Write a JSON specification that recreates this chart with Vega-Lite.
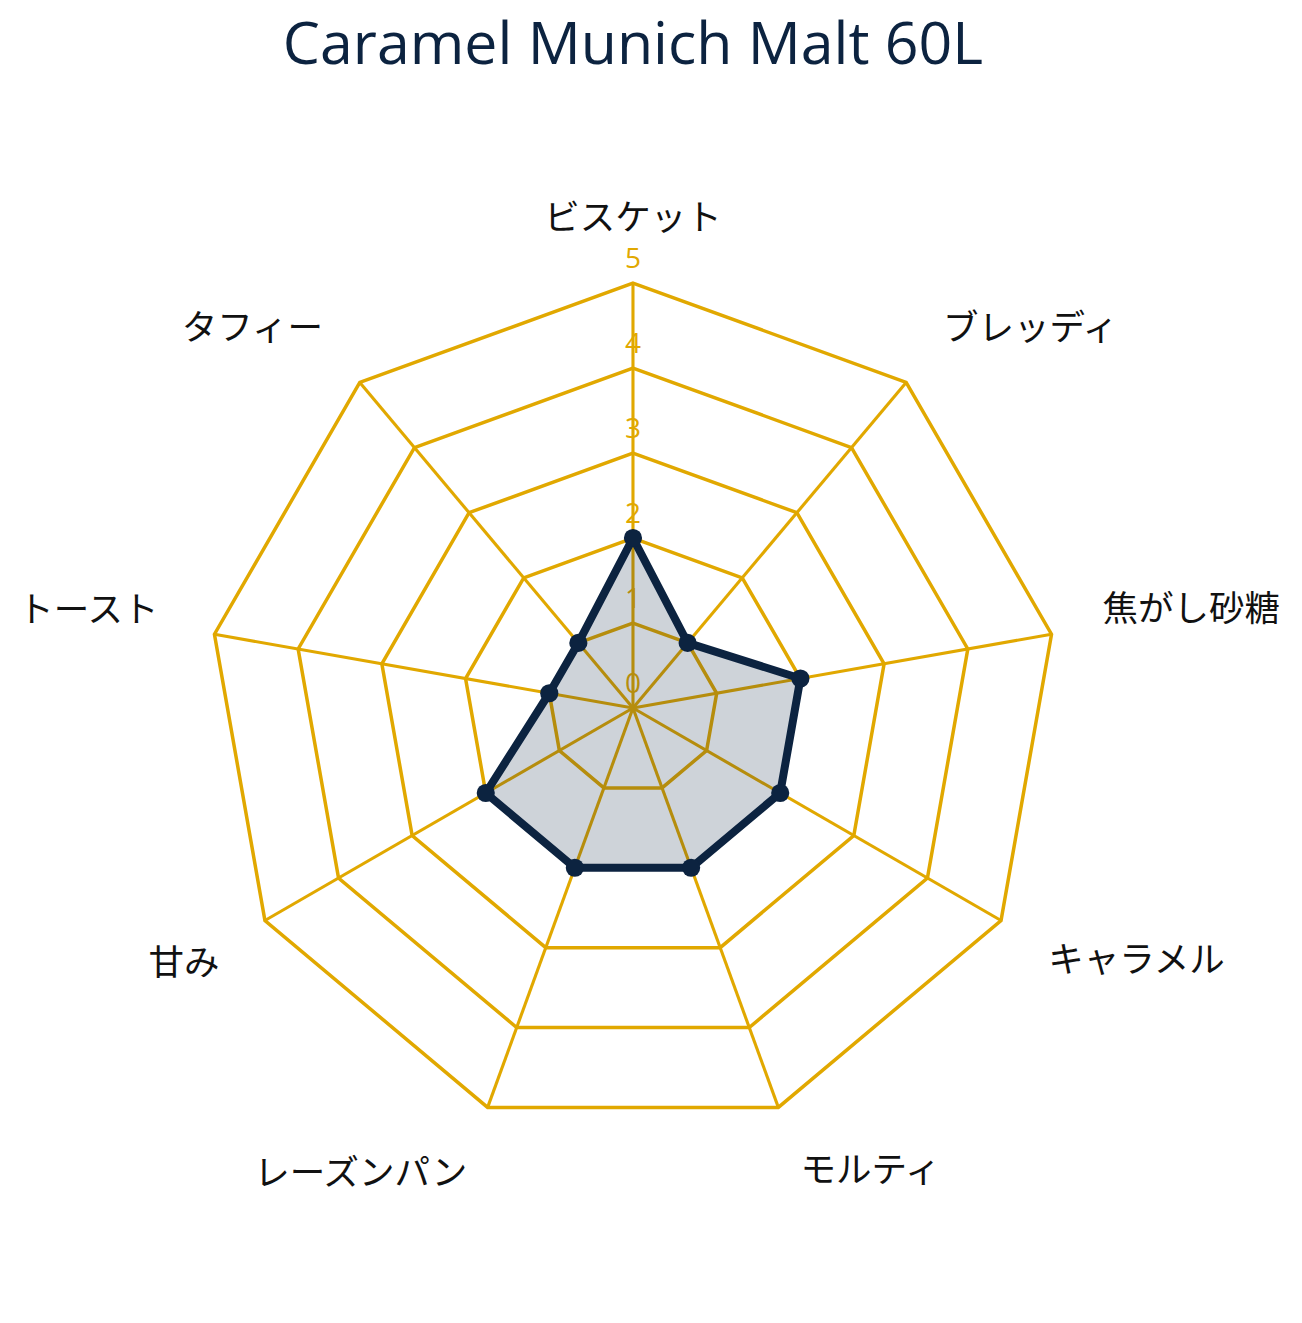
{
  "$schema": "https://vega.github.io/schema/vega-lite/v6.json",
  "width": 1302,
  "height": 1233,
  "autosize": {"type": "none"},
  "padding": {"top": 90, "left": 0, "right": 0, "bottom": 0},
  "background": "white",
  "config": {"view": {"stroke": null}},
  "title": {
    "text": "Caramel Munich Malt 60L",
    "anchor": "middle",
    "frame": "group",
    "font": "Open Sans",
    "fontSize": 59,
    "fontWeight": "normal",
    "color": "#0c2340",
    "offset": 14,
    "dx": -18
  },
  "datasets": {
    "flavor": [
      {"axis": "ビスケット", "i": 0, "value": 2},
      {"axis": "ブレッディ", "i": 1, "value": 1},
      {"axis": "焦がし砂糖", "i": 2, "value": 2},
      {"axis": "キャラメル", "i": 3, "value": 2},
      {"axis": "モルティ", "i": 4, "value": 2},
      {"axis": "レーズンパン", "i": 5, "value": 2},
      {"axis": "甘み", "i": 6, "value": 2},
      {"axis": "トースト", "i": 7, "value": 1},
      {"axis": "タフィー", "i": 8, "value": 1}
    ],
    "levels": [
      {"level": 0, "k": [0, 1, 2, 3, 4, 5, 6, 7, 8]},
      {"level": 1, "k": [0, 1, 2, 3, 4, 5, 6, 7, 8]},
      {"level": 2, "k": [0, 1, 2, 3, 4, 5, 6, 7, 8]},
      {"level": 3, "k": [0, 1, 2, 3, 4, 5, 6, 7, 8]},
      {"level": 4, "k": [0, 1, 2, 3, 4, 5, 6, 7, 8]},
      {"level": 5, "k": [0, 1, 2, 3, 4, 5, 6, 7, 8]}
    ]
  },
  "encoding": {
    "x": {"field": "x", "type": "quantitative", "scale": {"domain": [-7.447, 7.871], "nice": false, "zero": false}, "axis": null},
    "y": {"field": "y", "type": "quantitative", "scale": {"domain": [-7.235, 7.271], "nice": false, "zero": false}, "axis": null}
  },
  "layer": [
    {
      "data": {"name": "levels"},
      "transform": [
        {"filter": "datum.level > 0"},
        {"flatten": ["k"]},
        {"calculate": "datum.k * 2 * PI / 9", "as": "a"},
        {"calculate": "datum.level * sin(datum.a)", "as": "x"},
        {"calculate": "datum.level * cos(datum.a)", "as": "y"}
      ],
      "mark": {"type": "line", "interpolate": "linear-closed", "stroke": "#E1A800", "strokeWidth": 3.5},
      "encoding": {
        "detail": {"field": "level", "type": "nominal"},
        "order": {"field": "k", "type": "quantitative"}
      }
    },
    {
      "data": {"name": "flavor"},
      "transform": [
        {"calculate": "datum.i * 2 * PI / 9", "as": "a"},
        {"calculate": "5 * sin(datum.a)", "as": "x"},
        {"calculate": "5 * cos(datum.a)", "as": "y"}
      ],
      "mark": {"type": "rule", "stroke": "#E1A800", "strokeWidth": 3.1},
      "encoding": {
        "x2": {"datum": 0},
        "y2": {"datum": 0}
      }
    },
    {
      "data": {"name": "levels"},
      "transform": [
        {"calculate": "0", "as": "x"},
        {"calculate": "datum.level", "as": "y"}
      ],
      "mark": {"type": "text", "color": "#E1A800", "font": "Open Sans", "fontSize": 28, "dy": -23, "baseline": "middle", "align": "center"},
      "encoding": {"text": {"field": "level", "type": "quantitative"}}
    },
    {
      "data": {"name": "flavor"},
      "transform": [
        {"calculate": "datum.i * 2 * PI / 9", "as": "a"},
        {"calculate": "datum.value * sin(datum.a)", "as": "x"},
        {"calculate": "datum.value * cos(datum.a)", "as": "y"}
      ],
      "layer": [
        {
          "mark": {"type": "line", "interpolate": "linear-closed", "fill": "#0c2340", "fillOpacity": 0.2, "stroke": "#0c2340", "strokeWidth": 8, "strokeJoin": "round"},
          "encoding": {"order": {"field": "i", "type": "quantitative"}}
        },
        {
          "mark": {"type": "circle", "color": "#0c2340", "opacity": 1, "size": 330},
          "encoding": {}
        }
      ]
    },
    {
      "data": {"name": "flavor"},
      "transform": [
        {"calculate": "datum.i * 2 * PI / 9", "as": "a"},
        {"calculate": "5.765 * sin(datum.a)", "as": "x"},
        {"calculate": "5.765 * cos(datum.a)", "as": "y"}
      ],
      "encoding": {"text": {"field": "axis", "type": "nominal"}},
      "layer": [
        {"transform": [{"filter": "datum.i == 0"}], "mark": {"type": "text", "font": "Noto Sans CJK JP", "fontSize": 35.5, "color": "#111111", "align": "center", "baseline": "middle", "dx": 0, "dy": 1}},
        {"transform": [{"filter": "datum.i == 1"}], "mark": {"type": "text", "font": "Noto Sans CJK JP", "fontSize": 35.5, "color": "#111111", "align": "left", "baseline": "middle", "dx": -5, "dy": -4}},
        {"transform": [{"filter": "datum.i == 2"}], "mark": {"type": "text", "font": "Noto Sans CJK JP", "fontSize": 35.5, "color": "#111111", "align": "left", "baseline": "middle", "dx": -13, "dy": -13}},
        {"transform": [{"filter": "datum.i == 3"}], "mark": {"type": "text", "font": "Noto Sans CJK JP", "fontSize": 35.5, "color": "#111111", "align": "left", "baseline": "middle", "dx": -9, "dy": 8}},
        {"transform": [{"filter": "datum.i == 4"}], "mark": {"type": "text", "font": "Noto Sans CJK JP", "fontSize": 35.5, "color": "#111111", "align": "left", "baseline": "middle", "dx": 0, "dy": 3}},
        {"transform": [{"filter": "datum.i == 5"}], "mark": {"type": "text", "font": "Noto Sans CJK JP", "fontSize": 35.5, "color": "#111111", "align": "right", "baseline": "middle", "dx": 2, "dy": 6}},
        {"transform": [{"filter": "datum.i == 6"}], "mark": {"type": "text", "font": "Noto Sans CJK JP", "fontSize": 35.5, "color": "#111111", "align": "right", "baseline": "middle", "dx": 11, "dy": 11}},
        {"transform": [{"filter": "datum.i == 7"}], "mark": {"type": "text", "font": "Noto Sans CJK JP", "fontSize": 35.5, "color": "#111111", "align": "right", "baseline": "middle", "dx": 8, "dy": -12}},
        {"transform": [{"filter": "datum.i == 8"}], "mark": {"type": "text", "font": "Noto Sans CJK JP", "fontSize": 35.5, "color": "#111111", "align": "right", "baseline": "middle", "dx": 5, "dy": -4}}
      ]
    }
  ]
}
